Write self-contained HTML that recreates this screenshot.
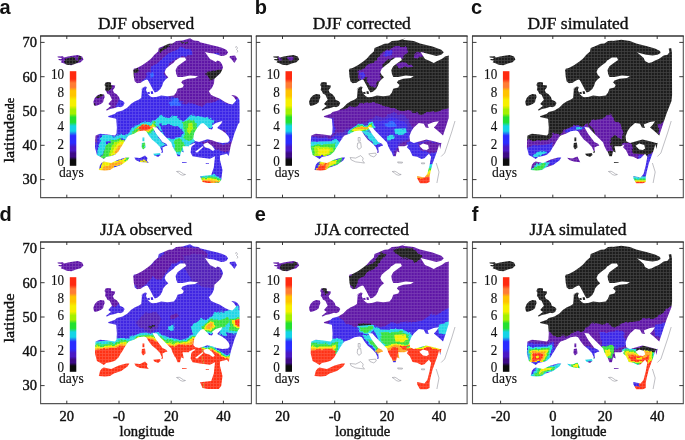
<!DOCTYPE html>
<html><head><meta charset="utf-8"><title>figure</title>
<style>
html,body{margin:0;padding:0;background:#fff;}
svg{display:block}
text{font-family:"Liberation Serif",serif;fill:#111;stroke:#111;stroke-width:0.4px}
.t14{font-size:14.5px}
.t15{font-size:14.6px}
.t16{font-size:15.5px}
.t11{font-size:12.5px}
.t13{font-size:14.3px;stroke-width:0.15px}
.t17{font-size:17.4px}
.lab{font-family:"Liberation Sans",sans-serif;font-weight:bold;font-size:20px;fill:#111;stroke:none}
</style></head><body>
<svg width="685" height="440" viewBox="0 0 685 440">
<defs>
<mask id="landA" maskUnits="userSpaceOnUse" x="30" y="26" width="232" height="182"><rect x="30" y="26" width="232" height="182" fill="#000"/><path d="M133.1,71.0 L133.8,68.8 L136.9,67.9 L142.5,65.0 L147.5,61.6 L151.2,58.5 L154.4,54.8 L158.1,51.6 L158.8,47.9 L162.5,46.6 L168.8,43.8 L172.5,43.5 L176.2,41.0 L182.5,40.4 L190.0,38.2 L193.8,40.4 L198.8,41.0 L200.0,42.2 L205.0,43.5 L211.2,45.0 L217.5,46.6 L222.5,48.1 L226.2,49.8 L228.1,52.2 L226.5,54.8 L223.8,55.8 L221.2,56.0 L217.5,54.8 L213.8,53.5 L209.4,52.9 L205.0,52.0 L206.9,54.8 L210.0,59.1 L213.1,60.4 L215.6,61.9 L217.5,60.4 L220.0,61.6 L221.9,64.1 L223.1,67.2 L222.5,69.1 L220.6,72.9 L217.5,76.0 L214.4,78.8 L214.0,83.5 L211.9,87.9 L208.8,91.2 L211.2,95.0 L215.6,96.9 L220.0,98.8 L225.0,101.9 L228.8,103.8 L232.5,104.4 L236.2,100.6 L233.8,96.9 L231.2,95.0 L235.0,95.6 L237.5,96.9 L239.4,100.0 L239.6,111.2 L239.5,120.0 L239.5,122.5 L238.1,124.3 L234.4,133.6 L230.7,145.8 L228.8,156.0 L226.9,153.8 L220.0,155.6 L220.0,160.0 L222.5,170.0 L221.2,180.0 L218.8,183.1 L207.5,183.1 L202.5,181.9 L200.0,176.2 L211.2,175.0 L213.8,167.5 L215.0,156.2 L215.0,156.2 L210.0,158.8 L200.0,157.5 L192.5,156.2 L190.6,152.5 L191.2,147.5 L192.5,144.4 L188.8,146.2 L182.5,146.2 L183.8,152.5 L181.2,151.2 L180.0,156.2 L177.5,156.2 L175.6,151.2 L175.0,151.2 L172.5,146.2 L171.2,142.5 L167.5,138.8 L162.5,133.8 L158.8,130.0 L156.9,127.5 L152.5,126.9 L153.8,129.4 L156.2,133.8 L159.4,138.1 L162.5,141.9 L166.2,143.8 L167.5,145.6 L165.0,146.2 L162.5,147.5 L163.1,152.5 L161.2,153.1 L161.9,151.2 L160.0,146.9 L156.2,143.1 L151.9,139.4 L148.8,135.6 L146.2,131.2 L143.8,130.6 L138.8,131.2 L133.8,133.8 L128.8,135.6 L125.0,139.4 L127.5,137.5 L125.0,140.6 L122.8,144.4 L120.6,147.8 L118.5,151.5 L115.0,154.8 L111.2,156.0 L106.2,156.9 L103.8,159.0 L100.6,156.9 L96.9,155.0 L95.0,147.5 L95.2,140.0 L95.6,135.6 L100.0,133.8 L107.5,134.4 L115.0,135.6 L116.5,133.8 L116.9,127.5 L116.5,122.5 L116.2,118.8 L112.5,118.1 L108.1,116.9 L108.8,115.6 L108.1,116.2 L115.0,113.8 L116.9,111.9 L122.5,110.6 L127.5,107.5 L131.2,103.8 L135.0,101.2 L138.1,100.0 L141.2,98.1 L141.5,95.0 L141.9,90.0 L143.8,86.9 L141.3,89.8 L137.1,83.3 L134.8,81.4 L133.8,76.8 L133.4,71.2Z" fill="#fff"/><path d="M136.2,88.0 L137.1,83.3 L140.8,82.8 L143.2,81.0 L146.4,79.6 L147.8,80.0 L149.2,82.4 L151.1,86.1 L153.0,89.8 L154.8,92.6 L157.2,91.7 L160.4,88.9 L162.3,85.6 L163.2,82.4 L165.1,80.0 L168.3,77.2 L166.0,74.9 L164.6,72.1 L166.0,68.8 L169.7,65.6 L173.5,62.8 L175.8,60.0 L176.2,60.0 L180.0,57.5 L185.0,57.5 L186.2,60.0 L182.5,62.5 L177.5,66.2 L175.6,70.0 L176.2,73.8 L177.5,76.9 L182.5,76.9 L190.0,75.6 L198.1,76.2 L195.0,78.1 L187.5,78.8 L182.5,80.6 L181.2,82.5 L183.8,85.0 L182.5,87.5 L177.5,88.8 L176.2,92.5 L173.8,95.6 L167.5,96.2 L161.2,95.6 L156.2,96.9 L152.0,97.3 L150.2,96.3 L148.3,94.5 L146.9,92.2 L146.0,89.8 L146.9,87.0 L145.0,86.6 L142.2,88.0 L141.3,89.8Z" fill="#000"/><path d="M193.4,137.4 L194.3,132.7 L197.1,128.1 L200.8,123.8 L203.2,122.9 L206.4,125.7 L209.2,129.0 L212.0,129.4 L213.0,127.6 L212.0,125.7 L215.8,122.9 L222.3,121.1 L221.3,123.4 L218.6,126.2 L217.2,128.1 L222.3,130.8 L226.0,133.6 L228.8,136.9 L229.7,140.2 L227.9,142.5 L222.3,143.0 L216.7,142.0 L212.0,140.2 L207.4,139.2 L203.6,140.6 L199.0,142.0 L195.2,141.1 L193.4,139.2Z" fill="#000"/><path d="M203.6,143.9 L207.4,142.5 L212.0,145.8 L214.8,149.5 L213.0,150.9 L209.2,148.6 L205.5,147.6 L203.6,145.8Z" fill="#000"/><path d="M195.2,151.8 L201.8,146.7 L203.6,145.8 L202.7,147.6 L197.1,152.7Z" fill="#000"/><path d="M188.7,145.8 L194.3,143.0 L195.2,143.9 L190.6,146.7Z" fill="#000"/><path d="M147.2,92.2 L149.5,91.7 L150.0,94.0 L147.7,94.0Z M150.7,91.2 L152.8,91.2 L153.3,94.0 L151.1,94.0Z M57.4,56.4 L63.0,56.2 L63.9,57.6 L68.1,56.6 L72.3,55.7 L77.9,55.1 L82.1,56.6 L83.5,59.5 L80.7,62.2 L76.1,63.6 L71.4,65.3 L66.7,64.8 L63.5,63.2 L60.7,62.2 L62.1,60.7 L58.4,59.9 L58.8,59.0 L62.1,59.0 L61.1,57.9 L57.9,57.6Z M93.8,104.5 L93.3,101.7 L94.8,98.0 L97.1,95.6 L100.3,94.0 L104.1,94.4 L104.7,97.0 L103.6,99.8 L103.1,102.2 L100.8,104.0 L97.1,105.4 L94.8,105.9Z M105.5,82.6 L108.3,82.1 L111.1,82.6 L111.1,84.9 L115.2,85.4 L114.8,87.7 L112.9,90.0 L113.8,92.4 L116.7,94.2 L119.0,97.0 L119.9,99.8 L123.2,101.2 L124.6,103.1 L123.2,105.9 L120.4,107.3 L118.5,106.8 L113.8,108.2 L110.1,109.1 L106.9,110.5 L105.9,110.1 L109.2,107.3 L111.1,105.9 L108.3,104.0 L110.1,101.7 L112.0,99.8 L111.1,98.0 L109.7,94.7 L107.3,93.8 L106.4,91.4 L105.0,90.0 L105.5,86.8 L104.5,84.9Z M142.5,137.5 L144.4,137.5 L144.4,141.2 L142.5,141.2Z M141.9,143.1 L145.0,142.5 L145.6,147.5 L143.1,149.4 L141.5,146.9Z M153.1,153.8 L160.0,153.1 L160.6,155.0 L158.1,156.9 L154.4,155.6Z M134.4,157.5 L140.0,158.1 L145.0,155.6 L147.5,158.1 L146.9,160.6 L148.8,163.1 L145.0,162.5 L140.0,161.9 L135.6,160.0Z M98.8,170.0 L100.0,165.0 L101.9,162.5 L103.8,161.5 L111.2,163.1 L118.8,159.4 L126.2,157.5 L129.4,157.5 L127.5,160.6 L121.2,165.0 L113.8,167.5 L110.0,170.0 L105.0,170.6Z M181.9,161.9 L186.9,162.2 L186.5,163.1 L182.2,162.9Z M205.6,162.9 L209.0,162.9 L208.8,163.8 L205.9,163.8Z M230.0,56.0 L235.0,55.4 L236.9,59.1 L234.4,62.9 L231.9,59.8 L229.4,57.2Z" fill="#fff"/></mask>
<mask id="landB" maskUnits="userSpaceOnUse" x="30" y="26" width="232" height="182"><rect x="30" y="26" width="232" height="182" fill="#000"/><path d="M133.1,71.0 L133.8,68.8 L136.9,67.9 L142.5,65.0 L147.5,61.6 L151.2,58.5 L154.4,54.8 L158.1,51.6 L158.8,47.9 L162.5,46.6 L168.8,43.8 L172.5,43.5 L176.2,41.0 L182.5,40.4 L190.0,38.2 L186.8,39.8 L198.1,41.0 L204.3,43.5 L216.8,46.6 L225.6,49.8 L228.1,52.2 L225.6,54.8 L220.6,56.0 L213.1,54.1 L204.9,52.0 L207.4,56.0 L209.3,59.1 L213.1,60.4 L218.1,62.9 L220.6,61.6 L224.3,59.8 L226.8,58.5 L229.3,56.6 L233.1,55.4 L233.0,60.0 L233.0,118.0 L230.0,127.5 L227.0,136.4 L224.5,148.9 L223.5,144.2 L221.3,151.6 L219.1,157.5 L216.9,163.4 L214.7,172.3 L213.9,176.7 L213.9,181.9 L211.0,183.3 L204.3,183.3 L201.4,178.2 L201.4,176.0 L205.1,176.7 L208.7,177.4 L211.7,173.7 L213.9,164.9 L215.4,156.8 L213.2,153.8 L208.7,158.2 L205.8,159.0 L201.4,156.8 L196.9,156.0 L194.0,150.1 L191.0,147.2 L189.5,145.7 L191.2,147.5 L192.5,144.4 L188.8,146.2 L182.5,146.2 L183.8,152.5 L181.2,151.2 L180.0,156.2 L177.5,156.2 L175.6,151.2 L175.0,151.2 L172.5,146.2 L171.2,142.5 L167.5,138.8 L162.5,133.8 L158.8,130.0 L156.9,127.5 L152.5,126.9 L153.8,129.4 L156.2,133.8 L159.4,138.1 L162.5,141.9 L166.2,143.8 L167.5,145.6 L165.0,146.2 L162.5,147.5 L163.1,152.5 L161.2,153.1 L161.9,151.2 L160.0,146.9 L156.2,143.1 L151.9,139.4 L148.8,135.6 L146.2,131.2 L143.8,130.6 L138.8,131.2 L133.8,133.8 L128.8,135.6 L125.0,139.4 L127.5,137.5 L125.0,140.6 L122.8,144.4 L120.6,147.8 L118.5,151.5 L115.0,154.8 L111.2,156.0 L106.2,156.9 L103.8,159.0 L100.6,156.9 L96.9,155.0 L95.0,147.5 L95.2,140.0 L95.6,135.6 L100.0,133.8 L107.5,134.4 L115.0,135.6 L116.5,133.8 L116.9,127.5 L116.5,122.5 L116.2,118.8 L112.5,118.1 L108.1,116.9 L108.8,115.6 L108.1,116.2 L115.0,113.8 L116.9,111.9 L122.5,110.6 L127.5,107.5 L131.2,103.8 L135.0,101.2 L138.1,100.0 L141.2,98.1 L141.5,95.0 L141.9,90.0 L143.8,86.9 L141.3,89.8 L137.1,83.3 L134.8,81.4 L133.8,76.8 L133.4,71.2Z" fill="#fff"/><path d="M136.2,88.0 L137.1,83.3 L140.8,82.8 L143.2,81.0 L146.4,79.6 L147.8,80.0 L149.2,82.4 L151.1,86.1 L153.0,89.8 L154.8,92.6 L157.2,91.7 L160.4,88.9 L162.3,85.6 L163.2,82.4 L165.1,80.0 L168.3,77.2 L166.0,74.9 L164.6,72.1 L166.0,68.8 L169.7,65.6 L173.5,62.8 L175.8,60.0 L176.2,60.0 L180.0,57.5 L185.0,57.5 L186.2,60.0 L182.5,62.5 L177.5,66.2 L175.6,70.0 L176.2,73.8 L177.5,76.9 L182.5,76.9 L190.0,75.6 L198.1,76.2 L195.0,78.1 L187.5,78.8 L182.5,80.6 L181.2,82.5 L183.8,85.0 L182.5,87.5 L177.5,88.8 L176.2,92.5 L173.8,95.6 L167.5,96.2 L161.2,95.6 L156.2,96.9 L152.0,97.3 L150.2,96.3 L148.3,94.5 L146.9,92.2 L146.0,89.8 L146.9,87.0 L145.0,86.6 L142.2,88.0 L141.3,89.8Z" fill="#000"/><path d="M193.7,136.2 L195.6,131.2 L198.1,127.5 L203.1,123.1 L208.1,123.8 L210.0,127.5 L213.1,128.1 L211.8,124.4 L218.1,121.9 L223.1,121.2 L220.6,125.0 L218.1,127.5 L221.8,130.6 L226.8,135.0 L230.0,138.8 L229.3,142.5 L224.3,143.1 L218.1,141.2 L210.6,139.4 L204.3,141.2 L198.1,143.1 L194.3,141.2Z" fill="#000"/><path d="M203.6,145.7 L207.3,143.5 L212.4,144.9 L213.2,148.6 L211.0,150.1 L207.3,149.4Z" fill="#000"/><path d="M147.2,92.2 L149.5,91.7 L150.0,94.0 L147.7,94.0Z M150.7,91.2 L152.8,91.2 L153.3,94.0 L151.1,94.0Z M57.4,56.4 L63.0,56.2 L63.9,57.6 L68.1,56.6 L72.3,55.7 L77.9,55.1 L82.1,56.6 L83.5,59.5 L80.7,62.2 L76.1,63.6 L71.4,65.3 L66.7,64.8 L63.5,63.2 L60.7,62.2 L62.1,60.7 L58.4,59.9 L58.8,59.0 L62.1,59.0 L61.1,57.9 L57.9,57.6Z M93.8,104.5 L93.3,101.7 L94.8,98.0 L97.1,95.6 L100.3,94.0 L104.1,94.4 L104.7,97.0 L103.6,99.8 L103.1,102.2 L100.8,104.0 L97.1,105.4 L94.8,105.9Z M105.5,82.6 L108.3,82.1 L111.1,82.6 L111.1,84.9 L115.2,85.4 L114.8,87.7 L112.9,90.0 L113.8,92.4 L116.7,94.2 L119.0,97.0 L119.9,99.8 L123.2,101.2 L124.6,103.1 L123.2,105.9 L120.4,107.3 L118.5,106.8 L113.8,108.2 L110.1,109.1 L106.9,110.5 L105.9,110.1 L109.2,107.3 L111.1,105.9 L108.3,104.0 L110.1,101.7 L112.0,99.8 L111.1,98.0 L109.7,94.7 L107.3,93.8 L106.4,91.4 L105.0,90.0 L105.5,86.8 L104.5,84.9Z M98.8,170.0 L100.0,165.0 L101.9,162.5 L103.8,161.5 L111.2,163.1 L118.8,159.4 L126.2,157.5 L129.4,157.5 L127.5,160.6 L121.2,165.0 L113.8,167.5 L110.0,170.0 L105.0,170.6Z" fill="#fff"/></mask>
<mask id="landC" maskUnits="userSpaceOnUse" x="30" y="26" width="232" height="182"><rect x="30" y="26" width="232" height="182" fill="#000"/><path d="M133.1,71.0 L133.8,68.8 L136.9,67.9 L142.5,65.0 L147.5,61.6 L151.2,58.5 L154.4,54.8 L158.1,51.6 L158.8,47.9 L162.5,46.6 L168.8,43.8 L172.5,43.5 L176.2,41.0 L182.5,40.4 L190.0,38.2 L180.6,41.0 L189.3,39.8 L198.1,41.0 L204.3,43.5 L214.3,46.0 L223.1,48.5 L228.1,51.0 L228.7,52.9 L225.6,54.8 L220.6,55.4 L214.3,54.8 L209.3,53.5 L205.0,52.2 L208.1,54.8 L211.8,57.9 L213.1,61.0 L216.8,62.9 L220.0,62.2 L223.1,60.4 L226.8,59.1 L229.3,57.2 L231.8,55.4 L235.6,54.8 L237.5,52.2 L236.8,48.5 L239.3,47.9 L240.0,52.2 L240.2,95.0 L239.6,101.0 L234.4,114.2 L230.0,127.5 L227.0,136.4 L224.5,148.9 L223.5,144.2 L221.3,151.6 L219.1,157.5 L216.9,163.4 L214.7,172.3 L213.9,176.7 L213.9,181.9 L211.0,183.3 L204.3,183.3 L201.4,178.2 L201.4,176.0 L205.1,176.7 L208.7,177.4 L211.7,173.7 L213.9,164.9 L215.4,156.8 L213.2,153.8 L208.7,158.2 L205.8,159.0 L201.4,156.8 L196.9,156.0 L194.0,150.1 L191.0,147.2 L189.5,145.7 L191.2,147.5 L192.5,144.4 L188.8,146.2 L182.5,146.2 L183.8,152.5 L181.2,151.2 L180.0,156.2 L177.5,156.2 L175.6,151.2 L175.0,151.2 L172.5,146.2 L171.2,142.5 L167.5,138.8 L162.5,133.8 L158.8,130.0 L156.9,127.5 L152.5,126.9 L153.8,129.4 L156.2,133.8 L159.4,138.1 L162.5,141.9 L166.2,143.8 L167.5,145.6 L165.0,146.2 L162.5,147.5 L163.1,152.5 L161.2,153.1 L161.9,151.2 L160.0,146.9 L156.2,143.1 L151.9,139.4 L148.8,135.6 L146.2,131.2 L143.8,130.6 L138.8,131.2 L133.8,133.8 L128.8,135.6 L125.0,139.4 L127.5,137.5 L125.0,140.6 L122.8,144.4 L120.6,147.8 L118.5,151.5 L115.0,154.8 L111.2,156.0 L106.2,156.9 L103.8,159.0 L100.6,156.9 L96.9,155.0 L95.0,147.5 L95.2,140.0 L95.6,135.6 L100.0,133.8 L107.5,134.4 L115.0,135.6 L116.5,133.8 L116.9,127.5 L116.5,122.5 L116.2,118.8 L112.5,118.1 L108.1,116.9 L108.8,115.6 L108.1,116.2 L115.0,113.8 L116.9,111.9 L122.5,110.6 L127.5,107.5 L131.2,103.8 L135.0,101.2 L138.1,100.0 L141.2,98.1 L141.5,95.0 L141.9,90.0 L143.8,86.9 L141.3,89.8 L137.1,83.3 L134.8,81.4 L133.8,76.8 L133.4,71.2Z" fill="#fff"/><path d="M136.2,88.0 L137.1,83.3 L140.8,82.8 L143.2,81.0 L146.4,79.6 L147.8,80.0 L149.2,82.4 L151.1,86.1 L153.0,89.8 L154.8,92.6 L157.2,91.7 L160.4,88.9 L162.3,85.6 L163.2,82.4 L165.1,80.0 L168.3,77.2 L166.0,74.9 L164.6,72.1 L166.0,68.8 L169.7,65.6 L173.5,62.8 L175.8,60.0 L176.2,60.0 L180.0,57.5 L185.0,57.5 L186.2,60.0 L182.5,62.5 L177.5,66.2 L175.6,70.0 L176.2,73.8 L177.5,76.9 L182.5,76.9 L190.0,75.6 L198.1,76.2 L195.0,78.1 L187.5,78.8 L182.5,80.6 L181.2,82.5 L183.8,85.0 L182.5,87.5 L177.5,88.8 L176.2,92.5 L173.8,95.6 L167.5,96.2 L161.2,95.6 L156.2,96.9 L152.0,97.3 L150.2,96.3 L148.3,94.5 L146.9,92.2 L146.0,89.8 L146.9,87.0 L145.0,86.6 L142.2,88.0 L141.3,89.8Z" fill="#000"/><path d="M193.7,136.2 L195.6,131.2 L198.1,127.5 L203.1,123.1 L208.1,123.8 L210.0,127.5 L213.1,128.1 L211.8,124.4 L218.1,121.9 L223.1,121.2 L220.6,125.0 L218.1,127.5 L221.8,130.6 L226.8,135.0 L230.0,138.8 L229.3,142.5 L224.3,143.1 L218.1,141.2 L210.6,139.4 L204.3,141.2 L198.1,143.1 L194.3,141.2Z" fill="#000"/><path d="M203.6,145.7 L207.3,143.5 L212.4,144.9 L213.2,148.6 L211.0,150.1 L207.3,149.4Z" fill="#000"/><path d="M147.2,92.2 L149.5,91.7 L150.0,94.0 L147.7,94.0Z M150.7,91.2 L152.8,91.2 L153.3,94.0 L151.1,94.0Z M57.4,56.4 L63.0,56.2 L63.9,57.6 L68.1,56.6 L72.3,55.7 L77.9,55.1 L82.1,56.6 L83.5,59.5 L80.7,62.2 L76.1,63.6 L71.4,65.3 L66.7,64.8 L63.5,63.2 L60.7,62.2 L62.1,60.7 L58.4,59.9 L58.8,59.0 L62.1,59.0 L61.1,57.9 L57.9,57.6Z M93.8,104.5 L93.3,101.7 L94.8,98.0 L97.1,95.6 L100.3,94.0 L104.1,94.4 L104.7,97.0 L103.6,99.8 L103.1,102.2 L100.8,104.0 L97.1,105.4 L94.8,105.9Z M105.5,82.6 L108.3,82.1 L111.1,82.6 L111.1,84.9 L115.2,85.4 L114.8,87.7 L112.9,90.0 L113.8,92.4 L116.7,94.2 L119.0,97.0 L119.9,99.8 L123.2,101.2 L124.6,103.1 L123.2,105.9 L120.4,107.3 L118.5,106.8 L113.8,108.2 L110.1,109.1 L106.9,110.5 L105.9,110.1 L109.2,107.3 L111.1,105.9 L108.3,104.0 L110.1,101.7 L112.0,99.8 L111.1,98.0 L109.7,94.7 L107.3,93.8 L106.4,91.4 L105.0,90.0 L105.5,86.8 L104.5,84.9Z M142.5,137.5 L144.4,137.5 L144.4,141.2 L142.5,141.2Z M141.9,143.1 L145.0,142.5 L145.6,147.5 L143.1,149.4 L141.5,146.9Z M153.1,153.8 L160.0,153.1 L160.6,155.0 L158.1,156.9 L154.4,155.6Z M135.2,157.8 L140.3,158.6 L145.5,156.4 L148.4,162.3 L141.8,161.5 L137.4,160.1Z M98.8,170.0 L100.0,165.0 L101.9,162.5 L103.8,161.5 L111.2,163.1 L118.8,159.4 L126.2,157.5 L129.4,157.5 L127.5,160.6 L121.2,165.0 L113.8,167.5 L110.0,170.0 L105.0,170.6Z M181.9,161.9 L186.9,162.2 L186.5,163.1 L182.2,162.9Z" fill="#fff"/></mask>
<pattern id="grid" width="3" height="3" patternUnits="userSpaceOnUse"><path d="M0,0.5H3M0.5,0V3" stroke="#fff" stroke-width="0.8" opacity="0.16"/></pattern>
<linearGradient id="cb" x1="0" y1="1" x2="0" y2="0">
<stop offset="0.018" stop-color="#0c0c0c"/><stop offset="0.062" stop-color="#0c0c0c"/>
<stop offset="0.095" stop-color="#3d0a86"/><stop offset="0.132" stop-color="#3d0a86"/>
<stop offset="0.162" stop-color="#4a18c4"/><stop offset="0.198" stop-color="#4a18c4"/>
<stop offset="0.242" stop-color="#2a2cff"/><stop offset="0.318" stop-color="#2a2cff"/>
<stop offset="0.367" stop-color="#14d4e6"/><stop offset="0.420" stop-color="#14d4e6"/>
<stop offset="0.460" stop-color="#22e030"/><stop offset="0.513" stop-color="#22e030"/>
<stop offset="0.551" stop-color="#a4f000"/><stop offset="0.595" stop-color="#a4f000"/>
<stop offset="0.637" stop-color="#f6f000"/><stop offset="0.696" stop-color="#f6f000"/>
<stop offset="0.740" stop-color="#ffc400"/><stop offset="0.793" stop-color="#ffc400"/>
<stop offset="0.831" stop-color="#ff7c34"/><stop offset="0.875" stop-color="#ff7c34"/>
<stop offset="0.917" stop-color="#ff2a10"/><stop offset="0.976" stop-color="#ff2a10"/>
</linearGradient>
<filter id="bl" x="0" y="0" width="100%" height="100%" filterUnits="objectBoundingBox"><feTurbulence type="fractalNoise" baseFrequency="0.11" numOctaves="2" seed="7" result="n"/><feDisplacementMap in="SourceGraphic" in2="n" scale="7" xChannelSelector="R" yChannelSelector="G" result="d"/><feGaussianBlur in="d" stdDeviation="0.6"/></filter>
</defs>
<rect width="685" height="440" fill="#fff"/>
<g transform="translate(0,0)">
<g mask="url(#landA)"><g filter="url(#bl)"><rect x="30" y="26" width="232" height="182" fill="#5e17a6"/>
<path d="M100.0,113.0 L113.0,109.0 L119.0,99.5 L127.0,98.0 L138.0,93.0 L141.0,85.0 L149.0,85.0 L160.0,92.0 L170.0,97.5 L182.5,101.2 L188.8,103.8 L195.0,103.0 L201.0,106.0 L207.5,103.8 L213.8,101.2 L220.0,100.0 L228.8,104.4 L232.0,104.0 L236.0,99.0 L242.0,97.0 L242.0,200.0 L90.0,200.0 L90.0,125.0 L100.0,125.0Z" fill="#3a28e8"/>
<path d="M140.2,82.7 L146.1,73.4 L157.8,61.7 L169.4,52.4 L181.1,46.5 L190.5,50.0 L192.8,54.7 L183.5,55.9 L174.1,59.4 L167.1,66.4 L164.8,73.4 L167.1,82.7 L160.1,92.1 L153.1,95.6 L146.1,89.7Z" fill="#3a28e8"/>
<path d="M148.0,74.0 L152.0,72.0 L153.0,77.0 L149.0,79.0Z" fill="#2a62ff"/>
<path d="M170.0,100.0 L177.5,98.8 L182.5,103.8 L177.5,106.2 L170.0,105.0Z" fill="#2a62ff"/>
<path d="M103.1,82.5 L110.0,81.9 L110.6,86.2 L108.8,91.2 L105.6,90.6 L103.1,87.5Z" fill="#1e1e1e"/>
<path d="M97.5,95.0 L102.5,94.4 L101.9,96.9 L98.8,98.1 L95.6,98.1Z" fill="#1e1e1e"/>
<path d="M92.8,102.8 L95.6,105.0 L95.0,106.2 L92.8,105.6Z" fill="#1e1e1e"/>
<path d="M65.7,58.0 L71.8,56.1 L79.3,56.4 L82.0,58.4 L79.3,62.5 L73.2,64.8 L67.0,64.8 L65.0,61.8Z" fill="#1e1e1e"/>
<path d="M75.2,56.1 L78.6,56.4 L77.9,61.8 L75.6,61.8Z" fill="#5e17a6"/>
<path d="M158.1,51.6 L158.8,47.9 L162.5,46.6 L168.8,43.8 L172.5,43.5 L170.0,46.6 L163.8,49.8 L159.4,52.9Z" fill="#1e1e1e"/>
<path d="M133.1,71.0 L133.8,68.8 L136.9,68.8 L139.4,72.2 L135.0,72.9 L135.6,77.2 L134.4,77.2Z" fill="#1e1e1e"/>
<path d="M180.0,41.6 L187.5,39.8 L187.5,41.0 L180.0,42.9Z" fill="#1e1e1e"/>
<path d="M206.2,72.2 L222.5,67.9 L220.0,73.5 L214.4,79.1 L209.4,80.4 L206.9,76.0Z" fill="#1e1e1e"/>
<path d="M213.8,52.2 L220.0,52.9 L220.6,54.8 L214.4,54.5Z" fill="#3a28e8"/>
<path d="M125.0,135.7 L130.2,130.4 L135.5,125.7 L144.3,122.2 L154.8,121.3 L161.8,116.9 L170.5,116.0 L177.5,119.5 L184.5,120.4 L189.8,116.0 L198.6,115.2 L207.3,116.9 L213.4,120.8 L210.8,126.9 L202.1,134.8 L195.1,140.0 L191.6,143.5 L186.3,147.9 L183.7,149.7 L181.9,156.7 L177.5,154.9 L172.3,146.2 L167.0,139.2 L160.9,132.2 L157.4,126.9 L151.3,126.9 L142.5,131.3 L132.0,136.5Z" fill="#22d6e6"/>
<path d="M160.0,126.0 L168.8,123.9 L177.5,125.7 L182.8,131.3 L181.0,137.4 L174.0,139.2 L167.0,136.5 L161.8,131.3Z" fill="#3a28e8"/>
<path d="M143.6,131.4 L148.7,128.2 L153.4,126.7 L154.6,131.8 L157.4,136.2 L161.1,141.3 L164.7,144.9 L161.8,147.1 L159.6,148.6 L156.7,144.9 L152.4,141.3 L148.0,136.2Z" fill="#22d6e6"/>
<path d="M145.1,131.4 L150.9,128.9 L152.4,132.6 L149.4,134.7Z" fill="#36e03c"/>
<path d="M182.8,122.5 L188.1,119.0 L195.1,119.9 L196.8,126.0 L194.2,134.8 L189.8,140.0 L184.5,138.3 L183.7,131.3Z" fill="#36e03c"/>
<path d="M187.2,123.4 L192.4,122.5 L193.3,129.5 L189.8,134.8 L187.2,131.3Z" fill="#a6f000"/>
<path d="M174.0,140.9 L181.0,140.0 L183.7,145.3 L181.9,152.3 L178.4,153.2 L175.8,147.0Z" fill="#36e03c"/>
<path d="M132.9,132.2 L138.1,126.4 L153.9,122.0 L156.9,126.9 L151.3,133.0 L135.9,135.7Z" fill="#36e03c"/>
<path d="M135.2,130.4 L139.9,126.4 L153.0,123.0 L155.1,126.9 L149.5,132.2 L137.6,134.4Z" fill="#f2ee00"/>
<path d="M137.6,128.6 L144.3,124.6 L152.2,123.9 L153.0,126.9 L148.6,130.9 L139.9,133.0Z" fill="#ffa41e"/>
<path d="M139.9,126.9 L147.8,123.9 L151.6,125.7 L148.1,129.5 L141.6,131.3Z" fill="#ff3212"/>
<path d="M126.2,138.8 L130.0,133.8 L137.5,128.8 L142.5,128.8 L140.0,130.6 L133.8,134.0 L130.0,135.6Z" fill="#36e03c"/>
<path d="M94.8,134.8 L99.0,134.8 L97.8,140.0 L95.9,143.8 L94.8,143.8Z" fill="#5e17a6"/>
<path d="M101.2,134.8 L116.2,135.6 L128.8,136.5 L126.9,139.4 L117.5,138.8 L112.5,140.0 L107.5,145.0 L103.8,151.2 L100.0,157.2 L96.9,156.5 L96.2,151.2 L98.1,146.2 L100.6,140.0Z" fill="#22d6e6"/>
<path d="M110.0,138.8 L116.9,139.0 L123.1,140.2 L121.2,145.0 L116.9,151.9 L110.6,157.2 L105.0,158.8 L101.2,157.5 L103.8,151.2 L106.9,145.6Z" fill="#36e03c"/>
<path d="M113.1,141.9 L122.5,140.0 L126.2,140.6 L123.8,145.0 L121.2,148.8 L119.0,152.5 L115.6,156.0 L109.4,157.5 L110.6,151.9 L111.9,146.2Z" fill="#a6f000"/>
<path d="M116.2,143.8 L125.0,141.2 L123.8,145.0 L121.2,148.8 L119.0,152.5 L115.6,155.8 L112.8,154.8 L114.4,149.4Z" fill="#f2ee00"/>
<path d="M118.5,146.5 L123.8,143.8 L121.9,148.1 L119.8,151.5 L116.9,154.8 L115.4,152.8 L117.0,149.0Z" fill="#ffa41e"/>
<path d="M105.6,140.6 L109.4,140.0 L110.0,142.5 L106.2,143.8Z" fill="#3a28e8"/>
<path d="M97.5,171.2 L100.0,164.4 L103.8,161.0 L111.2,162.5 L118.8,158.8 L130.0,156.9 L128.1,161.2 L121.2,165.6 L113.8,168.1 L110.0,170.6Z" fill="#f2ee00"/>
<path d="M101.2,170.0 L102.5,165.0 L108.8,165.0 L115.0,163.1 L121.2,160.6 L125.0,161.2 L120.0,165.0 L113.8,167.5 L108.8,170.0Z" fill="#ffa41e"/>
<path d="M125.0,157.5 L130.0,156.9 L128.1,160.6 L125.6,160.0Z" fill="#36e03c"/>
<path d="M140.0,160.6 L145.0,160.6 L148.8,163.1 L145.0,162.8 L140.0,162.1Z" fill="#f2ee00"/>
<path d="M152.5,153.1 L160.6,152.5 L161.2,155.6 L158.1,157.2 L153.8,156.0Z" fill="#22d6e6"/>
<path d="M141.2,136.9 L146.2,136.9 L146.2,150.0 L141.0,150.0Z" fill="#22d6e6"/>
<path d="M142.2,143.5 L145.0,143.0 L145.2,147.2 L143.1,148.8 L142.0,146.5Z" fill="#36e03c"/>
<path d="M203.4,141.1 L210.2,139.1 L217.9,142.0 L227.6,144.0 L234.3,139.7 L237.2,144.0 L231.8,151.7 L221.8,151.3 L212.1,148.2 L205.4,145.3Z" fill="#5e17a6"/>
<path d="M222.3,130.4 L226.9,133.2 L226.0,134.1 L221.8,131.3Z" fill="#5e17a6"/>
<path d="M200.0,175.6 L211.2,174.4 L220.0,176.2 L221.5,180.0 L218.8,183.5 L207.5,183.5 L202.2,182.2Z" fill="#22d6e6"/>
<path d="M200.6,177.2 L211.2,176.2 L220.6,178.1 L221.0,180.6 L218.8,183.5 L207.5,183.5 L202.2,182.2Z" fill="#36e03c"/>
<path d="M201.0,178.5 L211.2,178.1 L220.0,180.0 L219.4,183.2 L207.5,183.5 L202.2,182.2Z" fill="#f2ee00"/>
<path d="M201.5,179.8 L211.2,180.0 L218.8,181.2 L218.5,183.2 L207.5,183.5 L202.5,182.2Z" fill="#ffa41e"/>
<path d="M201.9,180.6 L207.5,181.2 L212.5,181.9 L211.2,183.4 L207.5,183.5 L202.8,182.2Z" fill="#ff3212"/>
</g><rect x="40" y="36" width="212" height="162" fill="url(#grid)"/></g>
<path d="M235,47.5 l1.5,-1 l1,1.5 l-1,1.5 l1.5,1.5 l-1,1.5" fill="none" stroke="#8a8a92" stroke-width="0.55"/>
<path d="M176.5,171.5 q3,-1 5,1 q2,2 4,2 q-3,1.5 -5,0 q-2,-2 -4,-3z" fill="none" stroke="#8a8a92" stroke-width="0.55"/>
<g transform="translate(0,0)">
<rect x="69.8" y="71.2" width="6.5" height="94.6" fill="url(#cb)"/>
<text transform="translate(64.1,166.3) scale(0.92,1)" text-anchor="end" class="t13">0</text>
<text transform="translate(64.1,148.9) scale(0.92,1)" text-anchor="end" class="t13">2</text>
<text transform="translate(64.1,131.4) scale(0.92,1)" text-anchor="end" class="t13">4</text>
<text transform="translate(64.1,114.0) scale(0.92,1)" text-anchor="end" class="t13">6</text>
<text transform="translate(64.1,96.5) scale(0.92,1)" text-anchor="end" class="t13">8</text>
<text transform="translate(64.1,79.1) scale(0.92,1)" text-anchor="end" class="t13">10</text>
<text transform="translate(59,177) scale(0.95,1)" class="t13">days</text></g>
<path d="M40.6,36V197.7M251.4,36V197.7" fill="none" stroke="#555" stroke-width="1.1"/>
<path d="M40.1,36H251.9" fill="none" stroke="#333" stroke-width="1.5"/>
<path d="M40.1,197.7H251.9" fill="none" stroke="#555" stroke-width="1.2"/>
<path d="M66.8,36v3M66.8,197.7v-3" stroke="#222" stroke-width="0.9"/>
<path d="M119.0,36v3M119.0,197.7v-3" stroke="#222" stroke-width="0.9"/>
<path d="M171.2,36v3M171.2,197.7v-3" stroke="#222" stroke-width="0.9"/>
<path d="M223.4,36v3M223.4,197.7v-3" stroke="#222" stroke-width="0.9"/>
<path d="M40.6,42.4h4M251.4,42.4h-4" stroke="#222" stroke-width="0.9"/>
<path d="M40.6,76.7h4M251.4,76.7h-4" stroke="#222" stroke-width="0.9"/>
<path d="M40.6,111.0h4M251.4,111.0h-4" stroke="#222" stroke-width="0.9"/>
<path d="M40.6,145.3h4M251.4,145.3h-4" stroke="#222" stroke-width="0.9"/>
<path d="M40.6,179.6h4M251.4,179.6h-4" stroke="#222" stroke-width="0.9"/>
</g>
<g transform="translate(215.7,0)">
<g mask="url(#landB)"><g filter="url(#bl)"><rect x="30" y="26" width="232" height="182" fill="#1e1e1e"/>
<path d="M143.3,70.0 L151.3,66.0 L159.3,60.0 L169.3,50.0 L179.3,46.0 L189.3,46.0 L192.3,52.0 L187.3,58.0 L179.3,57.0 L171.3,60.0 L165.3,66.0 L167.3,70.0 L163.3,80.0 L159.3,88.0 L153.3,84.0 L149.3,78.0 L145.3,80.0 L142.3,76.0Z" fill="#5e17a6"/>
<path d="M179.3,64.0 L187.3,62.0 L195.3,64.0 L196.3,67.0 L187.3,68.0 L180.3,67.0Z" fill="#5e17a6"/>
<path d="M199.3,53.0 L207.3,52.0 L210.3,56.0 L205.3,58.0 L200.3,57.0Z" fill="#5e17a6"/>
<path d="M168.3,51.0 L174.3,50.0 L175.3,55.0 L170.3,57.0Z" fill="#3a28e8"/>
<path d="M143.3,73.0 L147.3,72.0 L147.3,78.0 L144.3,79.0Z" fill="#3a28e8"/>
<path d="M62.3,57.4 L67.0,57.4 L67.0,60.4 L63.0,60.4Z" fill="#5e17a6"/>
<path d="M72.5,56.1 L77.3,55.7 L77.9,60.4 L73.2,60.4Z" fill="#5e17a6"/>
<path d="M94.2,133.7 L109.1,113.3 L126.5,109.4 L141.4,105.2 L153.8,102.7 L168.7,103.9 L176.1,108.9 L188.5,111.4 L203.4,113.8 L213.3,112.6 L223.3,110.1 L238.2,107.7 L238.2,193.3 L94.2,193.3Z" fill="#5e17a6"/>
<path d="M110.3,117.6 L119.0,118.8 L120.3,133.7 L115.3,134.9 L111.6,126.3Z" fill="#3a28e8"/>
<path d="M116.6,136.2 L133.9,128.7 L143.8,123.8 L158.7,118.8 L168.7,115.1 L183.6,115.1 L193.5,118.8 L196.0,128.7 L193.5,138.7 L183.6,143.6 L178.6,158.5 L158.7,156.0 L153.8,143.6 L141.4,136.2 L129.0,141.2Z" fill="#4a22c8"/>
<path d="M158.7,123.8 L168.7,118.8 L183.6,118.8 L191.0,123.8 L193.5,136.2 L183.6,141.2 L178.6,156.0 L163.7,153.6 L158.7,143.6Z" fill="#3a28e8"/>
<path d="M191.0,141.2 L225.7,141.2 L223.3,178.4 L198.4,185.8 L191.0,153.6Z" fill="#3a28e8"/>
<path d="M203.4,142.4 L225.7,141.2 L223.3,153.6 L213.3,152.3 L205.9,148.6Z" fill="#5e17a6"/>
<path d="M168.7,122.5 L179.8,121.8 L181.1,126.8 L169.9,127.5Z" fill="#2a62ff"/>
<path d="M178.6,128.7 L191.0,128.2 L192.2,133.2 L179.8,134.2Z" fill="#22d6e6"/>
<path d="M171.2,136.2 L178.6,135.7 L179.1,139.9 L171.6,140.4Z" fill="#22d6e6"/>
<path d="M132.7,131.2 L143.8,124.3 L157.5,122.5 L160.0,128.7 L150.1,131.7 L140.1,135.7Z" fill="#22d6e6"/>
<path d="M135.2,130.7 L143.8,125.5 L156.3,123.8 L158.2,128.2 L149.3,130.7 L140.1,134.2Z" fill="#36e03c"/>
<path d="M137.7,130.0 L145.1,126.3 L155.0,124.8 L156.3,127.8 L148.3,129.7 L140.9,133.0Z" fill="#f2ee00"/>
<path d="M140.1,128.7 L146.3,126.5 L152.5,125.8 L153.3,127.8 L146.8,129.0Z" fill="#ffa41e"/>
<path d="M146.3,131.2 L153.8,131.2 L163.7,143.6 L158.7,144.9Z" fill="#22d6e6"/>
<path d="M94.2,136.7 L127.7,136.7 L127.7,159.0 L94.2,159.0Z" fill="#3a28e8"/>
<path d="M94.2,140.7 L121.5,139.9 L125.2,143.6 L121.5,159.0 L94.2,159.0Z" fill="#22d6e6"/>
<path d="M95.5,144.9 L119.0,143.6 L121.5,147.3 L116.6,159.0 L95.5,159.0Z" fill="#36e03c"/>
<path d="M96.7,147.3 L117.8,146.6 L119.0,149.8 L111.6,157.3 L99.2,157.3Z" fill="#a6f000"/>
<path d="M100.4,149.1 L115.3,148.6 L114.1,153.6 L104.2,156.0Z" fill="#f2ee00"/>
<path d="M96.7,156.0 L133.9,156.0 L133.9,173.4 L96.7,173.4Z" fill="#3a28e8"/>
<path d="M98.0,171.4 L104.2,160.5 L125.2,157.3 L126.5,162.2 L114.1,168.9Z" fill="#36e03c"/>
<path d="M98.0,171.4 L103.7,162.2 L121.5,159.0 L121.5,163.5 L111.6,168.4Z" fill="#f2ee00"/>
<path d="M98.0,171.4 L102.9,163.5 L114.1,162.2 L112.8,167.4Z" fill="#ffa41e"/>
<path d="M98.7,170.9 L102.9,164.7 L110.3,164.2 L109.1,168.2Z" fill="#ff3212"/>
<path d="M198.4,166.5 L225.7,162.7 L225.7,186.3 L198.4,186.3Z" fill="#22d6e6"/>
<path d="M198.4,170.2 L225.7,166.5 L225.7,186.3 L198.4,186.3Z" fill="#36e03c"/>
<path d="M198.4,173.4 L225.7,169.7 L225.7,186.3 L198.4,186.3Z" fill="#f2ee00"/>
<path d="M198.4,176.1 L225.7,172.9 L225.7,186.3 L198.4,186.3Z" fill="#ffa41e"/>
<path d="M198.4,178.4 L225.7,175.4 L225.7,186.3 L198.4,186.3Z" fill="#ff3212"/>
</g><rect x="40" y="36" width="212" height="162" fill="url(#grid)"/></g>
<path d="M239.3,121 L236,132 L232,144 L229,153 L225.5,156.5 M220.5,163 L223.3,172 L221.2,183" fill="none" stroke="#8a8a92" stroke-width="0.55"/>
<path d="M142.5,137.5 L144.4,137.5 L144.4,141.2 L142.5,141.2Z" fill="none" stroke="#8a8a92" stroke-width="0.55"/>
<path d="M141.9,143.1 L145.0,142.5 L145.6,147.5 L143.1,149.4 L141.5,146.9Z" fill="none" stroke="#8a8a92" stroke-width="0.55"/>
<path d="M153.1,153.8 L160.0,153.1 L160.6,155.0 L158.1,156.9 L154.4,155.6Z" fill="none" stroke="#8a8a92" stroke-width="0.55"/>
<path d="M134.4,157.5 L140.0,158.1 L145.0,155.6 L147.5,158.1 L146.9,160.6 L148.8,163.1 L145.0,162.5 L140.0,161.9 L135.6,160.0Z" fill="none" stroke="#8a8a92" stroke-width="0.55"/>
<path d="M181.9,161.9 L186.9,162.2 L186.5,163.1 L182.2,162.9Z" fill="none" stroke="#8a8a92" stroke-width="0.55"/>
<path d="M205.6,162.9 L209.0,162.9 L208.8,163.8 L205.9,163.8Z" fill="none" stroke="#8a8a92" stroke-width="0.55"/>
<path d="M176.5,171.5 q3,-1 5,1 q2,2 4,2 q-3,1.5 -5,0 q-2,-2 -4,-3z" fill="none" stroke="#8a8a92" stroke-width="0.55"/>
<g transform="translate(0,0)">
<rect x="69.8" y="71.2" width="6.5" height="94.6" fill="url(#cb)"/>
<text transform="translate(64.1,166.3) scale(0.92,1)" text-anchor="end" class="t13">0</text>
<text transform="translate(64.1,148.9) scale(0.92,1)" text-anchor="end" class="t13">2</text>
<text transform="translate(64.1,131.4) scale(0.92,1)" text-anchor="end" class="t13">4</text>
<text transform="translate(64.1,114.0) scale(0.92,1)" text-anchor="end" class="t13">6</text>
<text transform="translate(64.1,96.5) scale(0.92,1)" text-anchor="end" class="t13">8</text>
<text transform="translate(64.1,79.1) scale(0.92,1)" text-anchor="end" class="t13">10</text>
<text transform="translate(59,177) scale(0.95,1)" class="t13">days</text></g>
<path d="M40.6,36V197.7M251.4,36V197.7" fill="none" stroke="#555" stroke-width="1.1"/>
<path d="M40.1,36H251.9" fill="none" stroke="#333" stroke-width="1.5"/>
<path d="M40.1,197.7H251.9" fill="none" stroke="#555" stroke-width="1.2"/>
<path d="M66.8,36v3M66.8,197.7v-3" stroke="#222" stroke-width="0.9"/>
<path d="M119.0,36v3M119.0,197.7v-3" stroke="#222" stroke-width="0.9"/>
<path d="M171.2,36v3M171.2,197.7v-3" stroke="#222" stroke-width="0.9"/>
<path d="M223.4,36v3M223.4,197.7v-3" stroke="#222" stroke-width="0.9"/>
<path d="M40.6,42.4h4M251.4,42.4h-4" stroke="#222" stroke-width="0.9"/>
<path d="M40.6,76.7h4M251.4,76.7h-4" stroke="#222" stroke-width="0.9"/>
<path d="M40.6,111.0h4M251.4,111.0h-4" stroke="#222" stroke-width="0.9"/>
<path d="M40.6,145.3h4M251.4,145.3h-4" stroke="#222" stroke-width="0.9"/>
<path d="M40.6,179.6h4M251.4,179.6h-4" stroke="#222" stroke-width="0.9"/>
</g>
<g transform="translate(431.9,0)">
<g mask="url(#landC)"><g filter="url(#bl)"><rect x="30" y="26" width="232" height="182" fill="#1e1e1e"/>
<path d="M93.0,139.2 L116.6,139.2 L120.3,134.9 L127.8,133.7 L127.8,161.0 L93.0,161.0Z" fill="#5e17a6"/>
<path d="M127.8,133.7 L132.7,130.0 L145.1,125.0 L155.1,123.8 L157.5,127.5 L165.0,138.7 L169.9,151.1 L157.5,151.1 L150.1,138.7 L142.7,131.2 L132.7,134.9Z" fill="#5e17a6"/>
<path d="M157.5,126.3 L165.0,118.8 L179.9,116.3 L187.3,123.8 L192.3,131.2 L189.8,137.4 L182.4,134.9 L178.6,139.9 L182.4,151.1 L174.9,153.6 L167.5,141.2 L162.5,131.2Z" fill="#5e17a6"/>
<path d="M189.8,142.4 L199.7,143.6 L202.2,153.6 L217.1,154.8 L223.3,151.1 L223.3,186.3 L192.3,186.3Z" fill="#5e17a6"/>
<path d="M225.8,125.0 L235.7,121.3 L233.2,133.7 L227.0,133.7Z" fill="#5e17a6"/>
<path d="M93.0,156.0 L152.6,156.0 L152.6,175.9 L93.0,175.9Z" fill="#5e17a6"/>
<path d="M93.0,147.3 L120.3,143.6 L122.8,147.3 L115.4,159.0 L93.0,159.0Z" fill="#3a28e8"/>
<path d="M101.7,153.6 L110.4,150.6 L116.6,152.3 L107.9,156.5 L103.0,157.3Z" fill="#22d6e6"/>
<path d="M132.7,130.7 L145.1,125.8 L153.8,125.0 L152.6,128.7 L140.2,133.2Z" fill="#3a28e8"/>
<path d="M143.9,127.5 L150.1,126.3 L149.6,128.7 L144.6,129.7Z" fill="#22d6e6"/>
<path d="M115.4,159.8 L131.5,156.0 L130.2,163.5 L117.8,166.0Z" fill="#3a28e8"/>
<path d="M96.8,171.4 L103.0,163.5 L117.8,162.2 L115.4,168.4Z" fill="#22d6e6"/>
<path d="M98.5,169.9 L104.2,164.7 L114.1,164.2 L112.4,167.9Z" fill="#36e03c"/>
<path d="M207.2,156.0 L223.3,153.6 L223.3,175.9 L202.2,175.9Z" fill="#3a28e8"/>
<path d="M198.5,176.4 L223.3,176.4 L223.3,186.3 L198.5,186.3Z" fill="#22d6e6"/>
<path d="M198.5,178.6 L223.3,178.6 L223.3,186.3 L198.5,186.3Z" fill="#36e03c"/>
<path d="M198.5,180.3 L223.3,180.3 L223.3,186.3 L198.5,186.3Z" fill="#f2ee00"/>
<path d="M198.5,181.8 L223.3,181.8 L223.3,186.3 L198.5,186.3Z" fill="#ff3212"/>
</g><rect x="40" y="36" width="212" height="162" fill="url(#grid)"/></g>
<path d="M239.3,121 L236,132 L232,144 L229,153 L225.5,156.5 M220.5,163 L223.3,172 L221.2,183" fill="none" stroke="#8a8a92" stroke-width="0.55"/>
<path d="M176.5,171.5 q3,-1 5,1 q2,2 4,2 q-3,1.5 -5,0 q-2,-2 -4,-3z" fill="none" stroke="#8a8a92" stroke-width="0.55"/>
<g transform="translate(1.2,0)">
<rect x="69.8" y="71.2" width="6.5" height="94.6" fill="url(#cb)"/>
<text transform="translate(64.1,166.3) scale(0.92,1)" text-anchor="end" class="t13">0</text>
<text transform="translate(64.1,148.9) scale(0.92,1)" text-anchor="end" class="t13">2</text>
<text transform="translate(64.1,131.4) scale(0.92,1)" text-anchor="end" class="t13">4</text>
<text transform="translate(64.1,114.0) scale(0.92,1)" text-anchor="end" class="t13">6</text>
<text transform="translate(64.1,96.5) scale(0.92,1)" text-anchor="end" class="t13">8</text>
<text transform="translate(64.1,79.1) scale(0.92,1)" text-anchor="end" class="t13">10</text>
<text transform="translate(59,177) scale(0.95,1)" class="t13">days</text></g>
<path d="M40.6,36V197.7M251.4,36V197.7" fill="none" stroke="#555" stroke-width="1.1"/>
<path d="M40.1,36H251.9" fill="none" stroke="#333" stroke-width="1.5"/>
<path d="M40.1,197.7H251.9" fill="none" stroke="#555" stroke-width="1.2"/>
<path d="M68.7,36v3M68.7,197.7v-3" stroke="#222" stroke-width="0.9"/>
<path d="M120.9,36v3M120.9,197.7v-3" stroke="#222" stroke-width="0.9"/>
<path d="M173.1,36v3M173.1,197.7v-3" stroke="#222" stroke-width="0.9"/>
<path d="M225.3,36v3M225.3,197.7v-3" stroke="#222" stroke-width="0.9"/>
<path d="M40.6,42.4h4M251.4,42.4h-4" stroke="#222" stroke-width="0.9"/>
<path d="M40.6,76.7h4M251.4,76.7h-4" stroke="#222" stroke-width="0.9"/>
<path d="M40.6,111.0h4M251.4,111.0h-4" stroke="#222" stroke-width="0.9"/>
<path d="M40.6,145.3h4M251.4,145.3h-4" stroke="#222" stroke-width="0.9"/>
<path d="M40.6,179.6h4M251.4,179.6h-4" stroke="#222" stroke-width="0.9"/>
</g>
<g transform="translate(0,206)">
<g mask="url(#landA)"><g filter="url(#bl)"><rect x="30" y="26" width="232" height="182" fill="#3f27e2"/>
<path d="M132.0,70.0 L150.0,58.0 L160.0,50.0 L170.0,43.0 L186.0,39.0 L200.0,42.0 L208.0,48.0 L204.0,56.0 L196.0,52.0 L188.0,56.0 L180.0,54.0 L172.0,58.0 L166.0,66.0 L160.0,74.0 L152.0,70.0 L146.0,76.0 L140.0,82.0 L132.0,79.0Z" fill="#5e17a6"/>
<path d="M183.5,50.0 L199.8,47.7 L220.8,59.4 L223.2,73.4 L211.5,82.7 L192.8,75.7 L185.8,64.0Z" fill="#5222b8"/>
<path d="M90.0,92.0 L106.0,92.0 L106.0,108.0 L90.0,108.0Z" fill="#5e17a6"/>
<path d="M103.0,80.0 L120.0,80.0 L120.0,99.0 L103.0,99.0Z" fill="#5e17a6"/>
<path d="M50.0,50.0 L90.0,50.0 L90.0,70.0 L50.0,70.0Z" fill="#5e17a6"/>
<path d="M135.5,113.8 L142.5,107.6 L156.5,106.8 L161.8,115.5 L159.2,123.4 L146.0,125.1 L137.3,121.6Z" fill="#5222b8"/>
<path d="M168.8,108.8 L177.5,108.5 L177.9,113.8 L169.7,114.1Z" fill="#5e17a6"/>
<path d="M148.6,119.9 L154.8,119.9 L154.8,121.8 L148.6,121.8Z" fill="#1e1e1e"/>
<path d="M90.0,136.2 L94.9,135.7 L114.8,133.7 L125.0,132.7 L132.0,130.4 L142.5,126.9 L151.3,126.0 L160.0,128.6 L168.8,131.3 L175.8,133.9 L182.8,132.2 L191.6,129.5 L196.8,125.1 L196.8,192.6 L90.0,192.6Z" fill="#22d6e6"/>
<path d="M167.9,119.4 L173.2,119.0 L173.7,123.4 L168.8,123.9Z" fill="#22d6e6"/>
<path d="M90.0,138.4 L94.9,137.9 L114.8,136.0 L125.0,134.9 L132.0,132.7 L142.5,129.2 L151.3,128.3 L160.0,130.9 L168.8,133.6 L175.8,136.2 L182.8,134.4 L191.6,131.8 L196.8,127.4 L196.8,192.6 L90.0,192.6Z" fill="#36e03c"/>
<path d="M90.0,140.4 L94.9,139.8 L114.8,137.9 L125.0,136.9 L132.0,134.6 L142.5,131.1 L151.3,130.2 L160.0,132.8 L168.8,135.5 L175.8,138.1 L182.8,136.3 L191.6,133.7 L196.8,129.3 L196.8,192.6 L90.0,192.6Z" fill="#f2ee00"/>
<path d="M90.0,141.9 L94.9,141.4 L114.8,139.5 L125.0,138.4 L132.0,136.2 L142.5,132.7 L151.3,131.8 L160.0,134.4 L168.8,137.1 L175.8,139.7 L182.8,137.9 L191.6,135.3 L196.8,130.9 L196.8,192.6 L90.0,192.6Z" fill="#ffa41e"/>
<path d="M90.0,143.5 L94.9,143.0 L114.8,141.1 L125.0,140.0 L132.0,137.8 L142.5,134.2 L151.3,133.4 L160.0,136.0 L168.8,138.6 L175.8,141.2 L182.8,139.5 L191.6,136.9 L196.8,132.5 L196.8,192.6 L90.0,192.6Z" fill="#ff3212"/>
<path d="M195.1,133.0 L192.4,126.0 L190.5,120.1 L199.8,113.1 L211.5,110.8 L220.8,106.0 L230.2,103.8 L240.6,98.7 L240.6,127.8 L230.1,126.9 L223.1,124.3 L216.1,126.0 L210.8,126.9 L207.3,127.8Z" fill="#22d6e6"/>
<path d="M202.1,119.9 L208.2,113.8 L217.8,113.4 L227.4,111.1 L230.1,115.5 L223.1,121.6 L216.1,124.6 L207.3,125.7Z" fill="#36e03c"/>
<path d="M203.8,119.0 L208.2,114.6 L214.3,115.5 L216.1,120.8 L211.7,125.1 L205.6,124.3Z" fill="#36e03c"/>
<path d="M205.9,119.0 L209.1,115.9 L213.4,116.9 L214.3,120.8 L210.8,123.9 L207.0,122.9Z" fill="#f2ee00"/>
<path d="M207.7,119.4 L209.9,117.3 L212.6,118.1 L212.6,121.1 L209.9,122.5Z" fill="#ffa41e"/>
<path d="M230.1,113.8 L240.6,109.4 L240.6,126.0 L231.8,124.3Z" fill="#36e03c"/>
<path d="M232.7,114.6 L240.6,112.0 L240.6,122.5 L233.6,121.6Z" fill="#f2ee00"/>
<path d="M235.0,113.8 L240.6,112.9 L240.6,119.9 L235.3,119.0Z" fill="#ff3212"/>
<path d="M219.6,122.5 L226.6,124.3 L225.7,131.3 L220.4,129.5Z" fill="#22d6e6"/>
<path d="M189.8,137.4 L204.2,139.2 L207.3,143.5 L207.3,192.6 L189.8,192.6Z" fill="#ff3212"/>
<path d="M203.8,137.4 L207.3,139.2 L216.1,142.7 L224.8,146.2 L230.1,148.8 L240.6,146.2 L240.6,192.6 L203.8,192.6Z" fill="#22d6e6"/>
<path d="M203.8,139.0 L207.3,140.7 L216.1,144.2 L224.8,147.7 L230.1,150.4 L240.6,147.7 L240.6,192.6 L203.8,192.6Z" fill="#36e03c"/>
<path d="M203.8,140.4 L207.3,142.1 L216.1,145.6 L224.8,149.1 L230.1,151.8 L240.6,149.1 L240.6,192.6 L203.8,192.6Z" fill="#f2ee00"/>
<path d="M203.8,141.4 L207.3,143.2 L216.1,146.7 L224.8,150.2 L230.1,152.8 L240.6,150.2 L240.6,192.6 L203.8,192.6Z" fill="#ffa41e"/>
<path d="M203.8,142.5 L207.3,144.2 L216.1,147.7 L224.8,151.2 L230.1,153.9 L240.6,151.2 L240.6,192.6 L203.8,192.6Z" fill="#ff3212"/>
</g><rect x="40" y="36" width="212" height="162" fill="url(#grid)"/></g>
<path d="M235,47.5 l1.5,-1 l1,1.5 l-1,1.5 l1.5,1.5 l-1,1.5" fill="none" stroke="#8a8a92" stroke-width="0.55"/>
<path d="M176.5,171.5 q3,-1 5,1 q2,2 4,2 q-3,1.5 -5,0 q-2,-2 -4,-3z" fill="none" stroke="#8a8a92" stroke-width="0.55"/>
<g transform="translate(0,0)">
<rect x="69.8" y="71.2" width="6.5" height="94.6" fill="url(#cb)"/>
<text transform="translate(64.1,166.3) scale(0.92,1)" text-anchor="end" class="t13">0</text>
<text transform="translate(64.1,148.9) scale(0.92,1)" text-anchor="end" class="t13">2</text>
<text transform="translate(64.1,131.4) scale(0.92,1)" text-anchor="end" class="t13">4</text>
<text transform="translate(64.1,114.0) scale(0.92,1)" text-anchor="end" class="t13">6</text>
<text transform="translate(64.1,96.5) scale(0.92,1)" text-anchor="end" class="t13">8</text>
<text transform="translate(64.1,79.1) scale(0.92,1)" text-anchor="end" class="t13">10</text>
<text transform="translate(59,177) scale(0.95,1)" class="t13">days</text></g>
<path d="M40.6,36V197.7M251.4,36V197.7" fill="none" stroke="#555" stroke-width="1.1"/>
<path d="M40.1,36H251.9" fill="none" stroke="#333" stroke-width="1.5"/>
<path d="M40.1,197.7H251.9" fill="none" stroke="#555" stroke-width="1.2"/>
<path d="M66.8,36v3M66.8,197.7v-3" stroke="#222" stroke-width="0.9"/>
<path d="M119.0,36v3M119.0,197.7v-3" stroke="#222" stroke-width="0.9"/>
<path d="M171.2,36v3M171.2,197.7v-3" stroke="#222" stroke-width="0.9"/>
<path d="M223.4,36v3M223.4,197.7v-3" stroke="#222" stroke-width="0.9"/>
<path d="M40.6,42.4h4M251.4,42.4h-4" stroke="#222" stroke-width="0.9"/>
<path d="M40.6,76.7h4M251.4,76.7h-4" stroke="#222" stroke-width="0.9"/>
<path d="M40.6,111.0h4M251.4,111.0h-4" stroke="#222" stroke-width="0.9"/>
<path d="M40.6,145.3h4M251.4,145.3h-4" stroke="#222" stroke-width="0.9"/>
<path d="M40.6,179.6h4M251.4,179.6h-4" stroke="#222" stroke-width="0.9"/>
</g>
<g transform="translate(215.7,206)">
<g mask="url(#landB)"><g filter="url(#bl)"><rect x="30" y="26" width="232" height="182" fill="#5e17a6"/>
<path d="M132.7,70.9 L137.7,67.2 L148.8,59.8 L158.7,53.6 L166.2,46.1 L169.9,48.6 L161.2,59.8 L151.3,67.2 L142.6,73.4 L138.9,80.9 L133.9,79.6Z" fill="#1e1e1e"/>
<path d="M176.1,44.9 L183.6,39.9 L196.0,41.2 L205.9,49.9 L200.9,56.0 L191.0,53.6 L183.6,49.9Z" fill="#1e1e1e"/>
<path d="M106.1,82.6 L110.3,82.1 L111.1,88.3 L107.1,89.1Z" fill="#1e1e1e"/>
<path d="M65.7,58.0 L71.8,56.1 L79.3,56.4 L82.0,58.4 L79.3,62.5 L73.2,64.8 L67.0,64.8 L65.0,61.8Z" fill="#1e1e1e"/>
<path d="M109.1,118.8 L114.1,111.4 L117.8,108.4 L124.0,112.6 L133.9,118.8 L146.3,123.8 L158.7,121.8 L171.2,118.8 L183.6,117.6 L196.0,115.8 L208.4,112.6 L223.3,106.4 L238.2,99.5 L238.2,193.3 L94.2,193.3 L94.2,133.7 L109.1,133.7Z" fill="#3a28e8"/>
<path d="M141.4,117.6 L156.3,117.6 L156.3,120.0 L141.4,120.0Z" fill="#1e1e1e"/>
<path d="M140.1,120.0 L158.7,118.8 L161.2,125.0 L153.8,127.5 L143.8,126.3Z" fill="#22d6e6"/>
<path d="M158.7,126.3 L163.7,122.5 L183.6,123.3 L194.7,126.3 L193.5,143.6 L183.6,147.3 L173.6,147.3 L166.2,138.7Z" fill="#22d6e6"/>
<path d="M142.6,121.8 L157.5,120.8 L158.7,124.3 L145.1,125.3Z" fill="#36e03c"/>
<path d="M163.7,126.3 L183.6,125.8 L193.5,128.7 L192.2,142.4 L176.1,144.9 L167.4,136.2Z" fill="#36e03c"/>
<path d="M178.6,128.7 L191.0,128.2 L192.2,134.9 L179.8,135.7Z" fill="#f2ee00"/>
<path d="M168.7,139.9 L194.7,136.7 L194.7,154.8 L171.2,156.0Z" fill="#f2ee00"/>
<path d="M169.9,142.4 L183.6,139.9 L194.7,137.7 L194.7,154.8 L171.6,156.0Z" fill="#ffa41e"/>
<path d="M171.2,144.9 L182.3,142.4 L183.6,154.8 L172.4,156.0Z" fill="#ff3212"/>
<path d="M184.1,139.7 L194.7,138.2 L194.7,143.6 L184.8,143.6Z" fill="#ff3212"/>
<path d="M146.3,128.7 L156.3,128.7 L168.7,143.6 L163.7,147.3 L153.8,138.7Z" fill="#22d6e6"/>
<path d="M151.3,133.7 L157.5,133.2 L167.4,143.1 L163.7,146.1Z" fill="#36e03c"/>
<path d="M161.2,141.2 L167.4,142.4 L166.2,147.3 L161.7,146.6Z" fill="#ffa41e"/>
<path d="M94.2,133.7 L127.7,133.7 L127.7,159.0 L94.2,159.0Z" fill="#22d6e6"/>
<path d="M94.2,136.7 L121.5,136.7 L124.0,159.0 L94.2,159.0Z" fill="#36e03c"/>
<path d="M94.2,139.4 L117.8,139.4 L122.8,159.0 L94.2,159.0Z" fill="#f2ee00"/>
<path d="M94.2,141.6 L116.1,141.6 L122.0,159.0 L94.2,159.0Z" fill="#ffa41e"/>
<path d="M94.2,143.6 L114.1,142.9 L121.5,145.4 L121.5,159.0 L94.2,159.0Z" fill="#ff3212"/>
<path d="M96.7,156.0 L133.9,156.0 L133.9,172.2 L96.7,172.2Z" fill="#ff3212"/>
<path d="M191.0,139.2 L225.7,137.7 L225.7,186.3 L191.0,186.3Z" fill="#36e03c"/>
<path d="M191.0,140.7 L225.7,139.4 L225.7,186.3 L191.0,186.3Z" fill="#f2ee00"/>
<path d="M191.0,142.6 L225.7,141.6 L225.7,186.3 L191.0,186.3Z" fill="#ff3212"/>
<path d="M222.0,118.8 L235.7,116.3 L235.7,127.5 L223.3,128.7Z" fill="#22d6e6"/>
</g><rect x="40" y="36" width="212" height="162" fill="url(#grid)"/></g>
<path d="M239.3,121 L236,132 L232,144 L229,153 L225.5,156.5 M220.5,163 L223.3,172 L221.2,183" fill="none" stroke="#8a8a92" stroke-width="0.55"/>
<path d="M142.5,137.5 L144.4,137.5 L144.4,141.2 L142.5,141.2Z" fill="none" stroke="#8a8a92" stroke-width="0.55"/>
<path d="M141.9,143.1 L145.0,142.5 L145.6,147.5 L143.1,149.4 L141.5,146.9Z" fill="none" stroke="#8a8a92" stroke-width="0.55"/>
<path d="M153.1,153.8 L160.0,153.1 L160.6,155.0 L158.1,156.9 L154.4,155.6Z" fill="none" stroke="#8a8a92" stroke-width="0.55"/>
<path d="M134.4,157.5 L140.0,158.1 L145.0,155.6 L147.5,158.1 L146.9,160.6 L148.8,163.1 L145.0,162.5 L140.0,161.9 L135.6,160.0Z" fill="none" stroke="#8a8a92" stroke-width="0.55"/>
<path d="M181.9,161.9 L186.9,162.2 L186.5,163.1 L182.2,162.9Z" fill="none" stroke="#8a8a92" stroke-width="0.55"/>
<path d="M205.6,162.9 L209.0,162.9 L208.8,163.8 L205.9,163.8Z" fill="none" stroke="#8a8a92" stroke-width="0.55"/>
<path d="M176.5,171.5 q3,-1 5,1 q2,2 4,2 q-3,1.5 -5,0 q-2,-2 -4,-3z" fill="none" stroke="#8a8a92" stroke-width="0.55"/>
<g transform="translate(0,0)">
<rect x="69.8" y="71.2" width="6.5" height="94.6" fill="url(#cb)"/>
<text transform="translate(64.1,166.3) scale(0.92,1)" text-anchor="end" class="t13">0</text>
<text transform="translate(64.1,148.9) scale(0.92,1)" text-anchor="end" class="t13">2</text>
<text transform="translate(64.1,131.4) scale(0.92,1)" text-anchor="end" class="t13">4</text>
<text transform="translate(64.1,114.0) scale(0.92,1)" text-anchor="end" class="t13">6</text>
<text transform="translate(64.1,96.5) scale(0.92,1)" text-anchor="end" class="t13">8</text>
<text transform="translate(64.1,79.1) scale(0.92,1)" text-anchor="end" class="t13">10</text>
<text transform="translate(59,177) scale(0.95,1)" class="t13">days</text></g>
<path d="M40.6,36V197.7M251.4,36V197.7" fill="none" stroke="#555" stroke-width="1.1"/>
<path d="M40.1,36H251.9" fill="none" stroke="#333" stroke-width="1.5"/>
<path d="M40.1,197.7H251.9" fill="none" stroke="#555" stroke-width="1.2"/>
<path d="M66.8,36v3M66.8,197.7v-3" stroke="#222" stroke-width="0.9"/>
<path d="M119.0,36v3M119.0,197.7v-3" stroke="#222" stroke-width="0.9"/>
<path d="M171.2,36v3M171.2,197.7v-3" stroke="#222" stroke-width="0.9"/>
<path d="M223.4,36v3M223.4,197.7v-3" stroke="#222" stroke-width="0.9"/>
<path d="M40.6,42.4h4M251.4,42.4h-4" stroke="#222" stroke-width="0.9"/>
<path d="M40.6,76.7h4M251.4,76.7h-4" stroke="#222" stroke-width="0.9"/>
<path d="M40.6,111.0h4M251.4,111.0h-4" stroke="#222" stroke-width="0.9"/>
<path d="M40.6,145.3h4M251.4,145.3h-4" stroke="#222" stroke-width="0.9"/>
<path d="M40.6,179.6h4M251.4,179.6h-4" stroke="#222" stroke-width="0.9"/>
</g>
<g transform="translate(431.9,206)">
<g mask="url(#landC)"><g filter="url(#bl)"><rect x="30" y="26" width="232" height="182" fill="#1e1e1e"/>
<path d="M107.9,118.8 L112.9,120.0 L122.8,131.2 L137.7,130.0 L145.1,125.0 L157.5,121.3 L165.0,116.3 L182.4,121.3 L192.3,116.3 L207.2,113.8 L222.1,111.4 L232.0,106.4 L244.4,96.5 L244.4,193.3 L93.0,193.3 L93.0,131.2Z" fill="#5e17a6"/>
<path d="M167.5,126.3 L192.3,125.0 L193.5,138.7 L182.4,143.6 L169.9,139.9Z" fill="#3a28e8"/>
<path d="M155.1,141.2 L167.5,141.2 L167.5,151.1 L155.1,151.1Z" fill="#3a28e8"/>
<path d="M222.1,118.8 L234.5,117.6 L233.2,131.2 L223.3,131.2Z" fill="#3a28e8"/>
<path d="M94.3,136.7 L120.3,136.7 L124.0,143.6 L120.3,159.0 L94.3,159.0Z" fill="#3a28e8"/>
<path d="M95.5,139.9 L117.8,139.4 L120.3,146.1 L116.6,158.0 L95.5,158.0Z" fill="#22d6e6"/>
<path d="M96.8,142.4 L116.6,141.6 L117.8,147.3 L114.1,157.3 L96.8,157.3Z" fill="#36e03c"/>
<path d="M97.5,144.4 L115.4,143.6 L115.8,148.6 L112.4,156.0 L98.0,156.0Z" fill="#f2ee00"/>
<path d="M98.5,146.1 L113.4,145.4 L114.1,149.8 L110.4,155.3 L99.5,155.3Z" fill="#ffa41e"/>
<path d="M99.5,149.1 L107.9,147.1 L112.4,149.1 L109.4,154.6 L101.0,154.6Z" fill="#ff3212"/>
<path d="M103.9,150.1 L106.9,149.6 L106.9,152.1 L104.2,152.3Z" fill="#f2ee00"/>
<path d="M95.5,156.0 L132.7,156.0 L132.7,172.2 L95.5,172.2Z" fill="#3a28e8"/>
<path d="M96.8,170.9 L104.2,161.0 L130.2,157.3 L129.0,163.5 L112.9,168.9Z" fill="#22d6e6"/>
<path d="M100.5,168.4 L106.7,162.2 L125.3,159.8 L124.0,163.5 L111.6,167.7Z" fill="#36e03c"/>
<path d="M105.4,166.0 L110.4,162.7 L120.3,161.5 L119.1,164.0 L110.9,166.5Z" fill="#f2ee00"/>
<path d="M135.2,156.0 L150.1,156.0 L150.1,164.7 L135.2,164.2Z" fill="#22d6e6"/>
<path d="M138.9,158.0 L148.1,158.0 L148.1,163.0 L139.7,162.5Z" fill="#36e03c"/>
<path d="M142.2,159.0 L147.1,159.0 L147.1,162.0 L142.7,162.0Z" fill="#f2ee00"/>
<path d="M152.6,152.3 L163.8,152.3 L163.8,157.3 L152.6,157.3Z" fill="#22d6e6"/>
<path d="M169.9,139.9 L182.4,141.2 L181.1,153.6 L172.4,152.3Z" fill="#36e03c"/>
<path d="M172.9,143.6 L180.4,144.4 L179.4,151.1 L173.9,150.6Z" fill="#f2ee00"/>
<path d="M189.8,142.4 L223.3,141.2 L223.3,161.0 L189.8,161.0Z" fill="#22d6e6"/>
<path d="M191.8,144.4 L222.1,143.1 L221.6,159.0 L193.5,159.5Z" fill="#36e03c"/>
<path d="M193.5,146.1 L220.1,144.9 L219.6,157.5 L196.0,158.0Z" fill="#f2ee00"/>
<path d="M196.0,147.8 L218.3,146.6 L217.1,156.0 L198.5,156.5Z" fill="#ffa41e"/>
<path d="M197.7,150.1 L207.2,148.1 L210.9,151.6 L217.1,149.1 L216.6,155.5 L199.7,156.0Z" fill="#ff3212"/>
<path d="M205.2,150.6 L209.2,150.1 L209.2,153.6 L205.7,153.6Z" fill="#f2ee00"/>
<path d="M204.7,141.2 L223.3,140.2 L223.3,145.1 L207.2,145.9Z" fill="#1e1e1e"/>
<path d="M207.2,159.0 L223.3,153.6 L223.3,186.3 L198.5,186.3 L199.7,178.4Z" fill="#ff3212"/>
<path d="M198.5,173.9 L207.2,174.7 L208.4,180.8 L199.7,179.6Z" fill="#3a28e8"/>
</g><rect x="40" y="36" width="212" height="162" fill="url(#grid)"/></g>
<path d="M239.3,121 L236,132 L232,144 L229,153 L225.5,156.5 M220.5,163 L223.3,172 L221.2,183" fill="none" stroke="#8a8a92" stroke-width="0.55"/>
<path d="M176.5,171.5 q3,-1 5,1 q2,2 4,2 q-3,1.5 -5,0 q-2,-2 -4,-3z" fill="none" stroke="#8a8a92" stroke-width="0.55"/>
<g transform="translate(1.2,0)">
<rect x="69.8" y="71.2" width="6.5" height="94.6" fill="url(#cb)"/>
<text transform="translate(64.1,166.3) scale(0.92,1)" text-anchor="end" class="t13">0</text>
<text transform="translate(64.1,148.9) scale(0.92,1)" text-anchor="end" class="t13">2</text>
<text transform="translate(64.1,131.4) scale(0.92,1)" text-anchor="end" class="t13">4</text>
<text transform="translate(64.1,114.0) scale(0.92,1)" text-anchor="end" class="t13">6</text>
<text transform="translate(64.1,96.5) scale(0.92,1)" text-anchor="end" class="t13">8</text>
<text transform="translate(64.1,79.1) scale(0.92,1)" text-anchor="end" class="t13">10</text>
<text transform="translate(59,177) scale(0.95,1)" class="t13">days</text></g>
<path d="M40.6,36V197.7M251.4,36V197.7" fill="none" stroke="#555" stroke-width="1.1"/>
<path d="M40.1,36H251.9" fill="none" stroke="#333" stroke-width="1.5"/>
<path d="M40.1,197.7H251.9" fill="none" stroke="#555" stroke-width="1.2"/>
<path d="M68.7,36v3M68.7,197.7v-3" stroke="#222" stroke-width="0.9"/>
<path d="M120.9,36v3M120.9,197.7v-3" stroke="#222" stroke-width="0.9"/>
<path d="M173.1,36v3M173.1,197.7v-3" stroke="#222" stroke-width="0.9"/>
<path d="M225.3,36v3M225.3,197.7v-3" stroke="#222" stroke-width="0.9"/>
<path d="M40.6,42.4h4M251.4,42.4h-4" stroke="#222" stroke-width="0.9"/>
<path d="M40.6,76.7h4M251.4,76.7h-4" stroke="#222" stroke-width="0.9"/>
<path d="M40.6,111.0h4M251.4,111.0h-4" stroke="#222" stroke-width="0.9"/>
<path d="M40.6,145.3h4M251.4,145.3h-4" stroke="#222" stroke-width="0.9"/>
<path d="M40.6,179.6h4M251.4,179.6h-4" stroke="#222" stroke-width="0.9"/>
</g>
<text x="146.1" y="28.9" text-anchor="middle" class="t17">DJF observed</text>
<text x="-0.6" y="14.3" class="lab">a</text>
<text x="361.79999999999995" y="28.9" text-anchor="middle" class="t17">DJF corrected</text>
<text x="254.8" y="14.3" class="lab">b</text>
<text x="578.0" y="28.9" text-anchor="middle" class="t17">DJF simulated</text>
<text x="470.9" y="14.3" class="lab">c</text>
<text x="146.1" y="234.9" text-anchor="middle" class="t17">JJA observed</text>
<text x="-0.6" y="220.8" class="lab">d</text>
<text x="361.79999999999995" y="234.9" text-anchor="middle" class="t17">JJA corrected</text>
<text x="254.8" y="220.8" class="lab">e</text>
<text x="578.0" y="234.9" text-anchor="middle" class="t17">JJA simulated</text>
<text x="471.8" y="220.8" class="lab">f</text>
<text x="36.9" y="47.2" text-anchor="end" class="t14">70</text>
<text x="36.9" y="81.5" text-anchor="end" class="t14">60</text>
<text x="36.9" y="115.8" text-anchor="end" class="t14">50</text>
<text x="36.9" y="150.1" text-anchor="end" class="t14">40</text>
<text x="36.9" y="184.4" text-anchor="end" class="t14">30</text>
<text transform="translate(13.6,138) rotate(-90)" text-anchor="middle" class="t16" textLength="49" lengthAdjust="spacingAndGlyphs">latitude</text>
<text transform="translate(13.6,113) rotate(-90)" class="t11">ıde</text>
<text x="36.9" y="253.2" text-anchor="end" class="t14">70</text>
<text x="36.9" y="287.5" text-anchor="end" class="t14">60</text>
<text x="36.9" y="321.8" text-anchor="end" class="t14">50</text>
<text x="36.9" y="356.1" text-anchor="end" class="t14">40</text>
<text x="36.9" y="390.4" text-anchor="end" class="t14">30</text>
<text transform="translate(13.6,318) rotate(-90)" text-anchor="middle" class="t16" textLength="49" lengthAdjust="spacingAndGlyphs">latitude</text>
<text x="66.8" y="420.7" text-anchor="middle" class="t14">20</text>
<text x="119.0" y="420.7" text-anchor="middle" class="t14">-0</text>
<text x="171.2" y="420.7" text-anchor="middle" class="t14">20</text>
<text x="223.4" y="420.7" text-anchor="middle" class="t14">40</text>
<text x="147.0" y="436" text-anchor="middle" class="t15">longitude</text>
<text x="282.5" y="420.7" text-anchor="middle" class="t14">20</text>
<text x="334.7" y="420.7" text-anchor="middle" class="t14">-0</text>
<text x="386.9" y="420.7" text-anchor="middle" class="t14">20</text>
<text x="439.1" y="420.7" text-anchor="middle" class="t14">40</text>
<text x="362.7" y="436" text-anchor="middle" class="t15">longitude</text>
<text x="500.6" y="420.7" text-anchor="middle" class="t14">-20</text>
<text x="552.8" y="420.7" text-anchor="middle" class="t14">0</text>
<text x="605.0" y="420.7" text-anchor="middle" class="t14">20</text>
<text x="657.2" y="420.7" text-anchor="middle" class="t14">40</text>
<text x="578.9" y="436" text-anchor="middle" class="t15">longitude</text>
</svg>
</body></html>
